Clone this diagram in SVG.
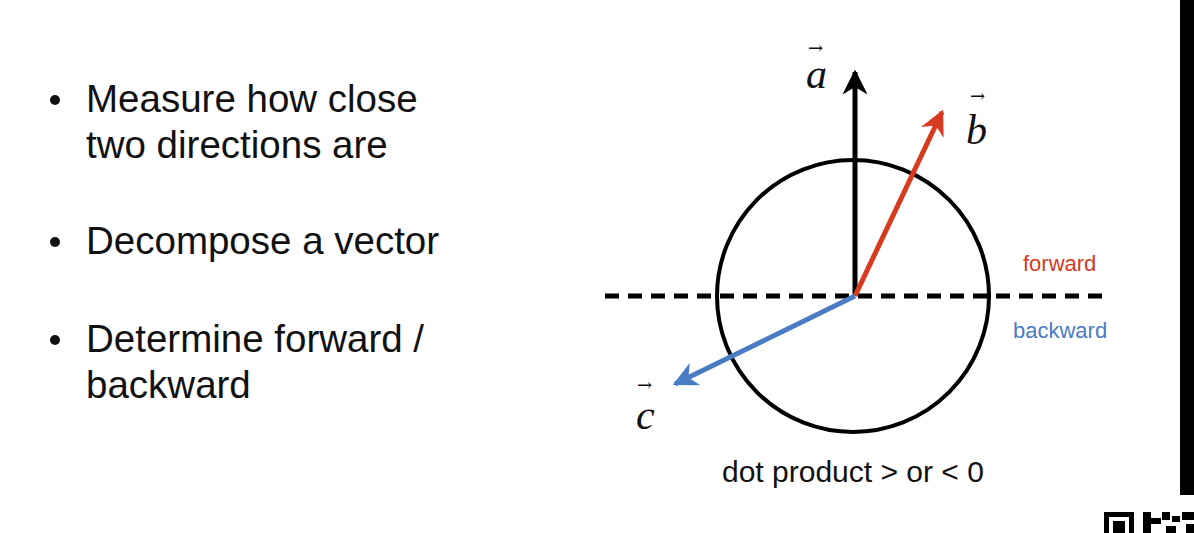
<svg xmlns="http://www.w3.org/2000/svg" width="1194" height="533" viewBox="0 0 1194 533">
<style>
.b{font-family:"Liberation Sans",Arial,sans-serif;font-size:38.5px;fill:#111}
.v{font-family:"Liberation Serif","DejaVu Serif",serif;font-style:italic;font-size:42px;fill:#111}
.ar{font-family:"DejaVu Serif",serif;font-size:18px;fill:#111}
.s{font-family:"Liberation Sans",Arial,sans-serif;font-size:22px}
</style>
<defs>
<marker id="mkA" viewBox="0 0 10 10" refX="9" refY="5" markerWidth="5" markerHeight="5" orient="auto" markerUnits="strokeWidth"><path d="M0,0 L10,5 L0,10 L3,5 z" fill="#000"/></marker>
<marker id="mkB" viewBox="0 0 10 10" refX="9" refY="5" markerWidth="5" markerHeight="5" orient="auto" markerUnits="strokeWidth"><path d="M0,0 L10,5 L0,10 L3,5 z" fill="#d63a1f"/></marker>
<marker id="mkC" viewBox="0 0 10 10" refX="9" refY="5" markerWidth="5" markerHeight="5" orient="auto" markerUnits="strokeWidth"><path d="M0,0 L10,5 L0,10 L3,5 z" fill="#4a7cc4"/></marker>
</defs>
<rect width="1194" height="533" fill="#fff"/>
<g id="bullets">
<circle cx="55" cy="100" r="5" fill="#111"/>
<text class="b" x="86" y="112">Measure how close</text>
<text class="b" x="86" y="158">two directions are</text>
<circle cx="55" cy="242" r="5" fill="#111"/>
<text class="b" x="86" y="254">Decompose a vector</text>
<circle cx="55" cy="340" r="5" fill="#111"/>
<text class="b" x="86" y="352">Determine forward /</text>
<text class="b" x="86" y="398">backward</text>
</g>
<g id="circle"><circle cx="853" cy="296" r="136" fill="none" stroke="#000" stroke-width="4"/></g>
<g id="connectors">
<line x1="605" y1="296" x2="1103" y2="296" stroke="#000" stroke-width="5" stroke-dasharray="14,9"/>
<line x1="855" y1="296" x2="855" y2="72" stroke="#000" stroke-width="5" marker-end="url(#mkA)"/>
<line x1="855" y1="296" x2="942" y2="112" stroke="#d63a1f" stroke-width="5" marker-end="url(#mkB)"/>
<line x1="855" y1="296" x2="675" y2="384" stroke="#4a7cc4" stroke-width="5" marker-end="url(#mkC)"/>
</g>
<g id="labels">
<text class="v" x="806" y="88">a</text><text class="ar" x="808" y="54">→</text>
<text class="v" x="966" y="144">b</text><text class="ar" x="970" y="102">→</text>
<text class="v" x="636" y="429">c</text><text class="ar" x="637" y="391">→</text>
<text class="s" x="1023" y="271" fill="#d63a1f">forward</text>
<text class="s" x="1013" y="338" fill="#4a7cc4">backward</text>
<text class="s" x="722" y="482" fill="#111" style="font-size:30px">dot product &gt; or &lt; 0</text>
</g>
<rect x="1180" y="0" width="14" height="495" fill="#000"/>
<g id="qr" fill="#000">
<rect x="1104" y="512" width="30" height="21"/><rect x="1109" y="517" width="20" height="16" fill="#fff"/><rect x="1113" y="521" width="12" height="12"/>
<rect x="1143" y="512" width="8" height="21"/><rect x="1151" y="518" width="10" height="6"/><rect x="1162" y="512" width="8" height="8"/><rect x="1172" y="516" width="8" height="6"/><rect x="1166" y="526" width="10" height="7"/><rect x="1182" y="512" width="12" height="8"/><rect x="1186" y="524" width="8" height="9"/>
</g>
</svg>
